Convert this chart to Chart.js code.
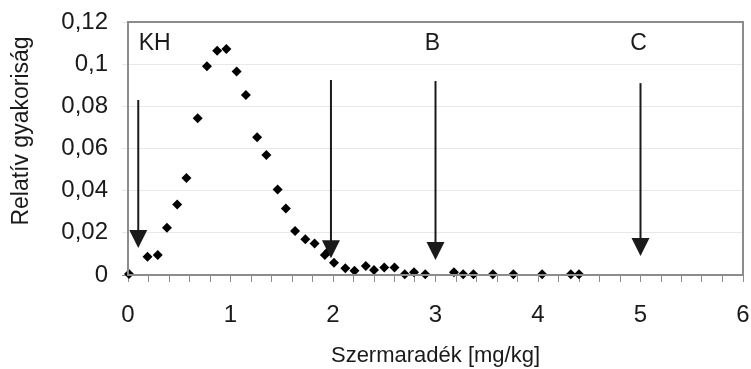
<!DOCTYPE html>
<html>
<head>
<meta charset="utf-8">
<script src="https://cdn.jsdelivr.net/npm/chart.js@4"></script>
<style>
  body { margin: 0; background: #fff; }
  #wrap { width: 751px; height: 369px; }
</style>
</head>
<body>
<div id="wrap"><canvas id="chart"></canvas></div>
<script>
// pontok (szermaradék mg/kg, relatív gyakoriság)
const xValues = [0.01, 0.19, 0.29, 0.38, 0.48, 0.57, 0.68, 0.77, 0.87, 0.96,
  1.06, 1.15, 1.26, 1.35, 1.46, 1.54, 1.63, 1.73, 1.82, 1.92,
  1.96, 2.01, 2.12, 2.21, 2.32, 2.40, 2.50, 2.60, 2.70, 2.79,
  2.90, 3.18, 3.27, 3.37, 3.56, 3.76, 4.04, 4.32, 4.40];
const yValues = [0.0005, 0.0087, 0.0095, 0.0224, 0.0334, 0.046, 0.0743, 0.099, 0.1064, 0.1072,
  0.0965, 0.0854, 0.0653, 0.0569, 0.0406, 0.0315, 0.0209, 0.0169, 0.015, 0.0095,
  0.0115, 0.0058, 0.0032, 0.002, 0.0043, 0.0024, 0.0035, 0.0035, 0.0003, 0.0013,
  0.0003, 0.0013, 0.0003, 0.0003, 0.0003, 0.0003, 0.0003, 0.0003, 0.0003];

// nyilak
const arrowX = [0.1, 1.98, 3, 5];
const arrowTop = [0.083, 0.0925, 0.092, 0.091];
const arrowTip = [0.0128, 0.008, 0.0071, 0.009];

// feliratok
const labelText = ['KH', 'B', 'C'];
const labelX = [0.26, 2.97, 4.98];
const labelY = [0.1095, 0.1095, 0.1095];

const xTitle = 'Szermaradék [mg/kg]';
const yTitle = 'Relatív gyakoriság';

const FONT = '"Liberation Sans", Arial, sans-serif';
const FRAME = '#8c8c8c';
const INK = '#1a1a1a';

const points = xValues.map((x, i) => ({x: x, y: yValues[i]}));

// keret, nyilak, feliratok
const extras = {
  id: 'extras',
  afterDatasetsDraw(chart) {
    const ctx = chart.ctx;
    const xs = chart.scales.x;
    const ys = chart.scales.y;
    const a = chart.chartArea;
    ctx.save();

    ctx.strokeStyle = FRAME;
    ctx.lineWidth = 2;
    ctx.strokeRect(a.left, a.top, a.right - a.left, a.bottom - a.top);

    ctx.strokeStyle = INK;
    ctx.fillStyle = INK;
    for (let i = 0; i < arrowX.length; i++) {
      const px = xs.getPixelForValue(arrowX[i]);
      const top = ys.getPixelForValue(arrowTop[i]);
      const tip = ys.getPixelForValue(arrowTip[i]);
      ctx.lineWidth = 2;
      ctx.beginPath();
      ctx.moveTo(px, top);
      ctx.lineTo(px, tip - 10);
      ctx.stroke();
      ctx.beginPath();
      ctx.moveTo(px, tip);
      ctx.lineTo(px - 9, tip - 18);
      ctx.lineTo(px + 9, tip - 18);
      ctx.closePath();
      ctx.fill();
    }

    ctx.font = '23px ' + FONT;
    ctx.textAlign = 'center';
    ctx.textBaseline = 'middle';
    labelText.forEach((t, i) => {
      ctx.fillText(t, xs.getPixelForValue(labelX[i]), ys.getPixelForValue(labelY[i]));
    });

    ctx.font = '23px ' + FONT;
    ctx.translate(22, 131);
    ctx.rotate(-Math.PI / 2);
    ctx.fillText(yTitle, 0, 0);
    ctx.restore();
  }
};

new Chart(document.getElementById('chart'), {
  type: 'scatter',
  data: {
    datasets: [{
      data: points,
      clip: false,
      pointStyle: 'rectRot',
      pointRadius: 5,
      pointBorderWidth: 0,
      backgroundColor: '#000',
      borderColor: '#000'
    }]
  },
  options: {
    responsive: true,
    maintainAspectRatio: false,
    animation: false,
    layout: { padding: { top: 22, right: 8, bottom: 0, left: 0 } },
    plugins: {
      legend: { display: false },
      tooltip: { enabled: false }
    },
    scales: {
      x: {
        type: 'linear',
        min: 0,
        max: 6,
        afterFit: (s) => {
          s.height = 94;
          s.paddingLeft = 0;
          s.paddingRight = 0;
        },
        ticks: {
          stepSize: 0.2,
          autoSkip: false,
          maxRotation: 0,
          padding: 19,
          color: INK,
          font: { family: FONT, size: 24 },
          callback: (v) => Math.abs(v - Math.round(v)) < 1e-6 ? String(Math.round(v)) : ''
        },
        grid: { drawOnChartArea: false, tickLength: 7, color: FRAME },
        border: { color: FRAME, width: 2 },
        title: {
          display: true,
          text: xTitle,
          color: INK,
          padding: { top: 1, bottom: 0 },
          font: { family: FONT, size: 22 }
        }
      },
      y: {
        min: 0,
        max: 0.12,
        afterFit: (s) => {
          s.width = 128;
          s.paddingTop = 0;
          s.paddingBottom = 0;
        },
        ticks: {
          stepSize: 0.02,
          padding: 14,
          color: INK,
          font: { family: FONT, size: 24 },
          callback: (v) => String(Number(v.toFixed(2))).replace('.', ',')
        },
        grid: {
          tickLength: 6,
          color: (c) => c.tick && c.tick.value === 0 ? FRAME : '#e8e8e8'
        },
        border: { color: FRAME, width: 2 }
      }
    }
  },
  plugins: [extras]
});
</script>
</body>
</html>
